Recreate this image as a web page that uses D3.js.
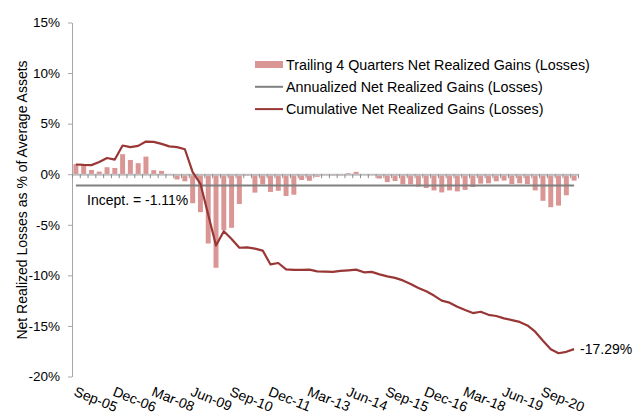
<!DOCTYPE html>
<html>
<head>
<meta charset="utf-8">
<script src="https://cdn.jsdelivr.net/npm/d3@7"></script>
<style>
  body { margin: 0; background: #fff; }
  svg text { font-family: Arial, 'Liberation Sans', sans-serif; fill: #000; }
</style>
</head>
<body>
<div id="chart"></div>
<script>
// quarter-end categories
const quarters = [
  'Sep-05', 'Dec-05',
  'Mar-06', 'Jun-06', 'Sep-06', 'Dec-06',
  'Mar-07', 'Jun-07', 'Sep-07', 'Dec-07',
  'Mar-08', 'Jun-08', 'Sep-08', 'Dec-08',
  'Mar-09', 'Jun-09', 'Sep-09', 'Dec-09',
  'Mar-10', 'Jun-10', 'Sep-10', 'Dec-10',
  'Mar-11', 'Jun-11', 'Sep-11', 'Dec-11',
  'Mar-12', 'Jun-12', 'Sep-12', 'Dec-12',
  'Mar-13', 'Jun-13', 'Sep-13', 'Dec-13',
  'Mar-14', 'Jun-14', 'Sep-14', 'Dec-14',
  'Mar-15', 'Jun-15', 'Sep-15', 'Dec-15',
  'Mar-16', 'Jun-16', 'Sep-16', 'Dec-16',
  'Mar-17', 'Jun-17', 'Sep-17', 'Dec-17',
  'Mar-18', 'Jun-18', 'Sep-18', 'Dec-18',
  'Mar-19', 'Jun-19', 'Sep-19', 'Dec-19',
  'Mar-20', 'Jun-20', 'Sep-20', 'Dec-20',
  'Mar-21', 'Jun-21', 'Sep-21',
];

// labels shown on the category axis
const tickLabels = ['Sep-05', 'Dec-06', 'Mar-08', 'Jun-09', 'Sep-10', 'Dec-11', 'Mar-13',
  'Jun-14', 'Sep-15', 'Dec-16', 'Mar-18', 'Jun-19', 'Sep-20'];

// trailing 4 quarters net realized gains (losses), % of avg assets
const trailing4Q = [
  1.00, 0.85, 0.42, 0.26, 0.69, 0.62, 1.98, 1.41, 1.09, 1.74,
  0.40, 0.33, 0.00, -0.52, -0.70, -2.87, -3.75, -6.85, -9.25, -5.53,
  -5.30, -2.95, -0.15, -1.82, -1.00, -1.75, -1.64, -2.15, -2.03, -0.57,
  -0.65, -0.26, -0.10, -0.15, -0.15, 0.10, 0.23, 0.00, 0.00, -0.43,
  -0.78, -0.68, -1.00, -1.00, -1.23, -1.37, -1.60, -1.80, -1.60, -1.70,
  -1.55, -1.27, -0.93, -0.90, -0.70, -0.63, -0.97, -0.90, -0.97, -1.60,
  -2.63, -3.26, -3.10, -2.08, -0.63,
];

// cumulative net realized gains (losses)
const cumulative = [
  0.96, 0.92, 0.90, 1.20, 1.60, 1.45, 2.84, 2.68, 2.80, 3.23,
  3.20, 3.00, 2.75, 2.68, 2.47, 0.20, -0.95, -4.00, -7.05, -5.63,
  -6.40, -7.27, -7.23, -7.36, -7.55, -8.92, -8.78, -9.40, -9.46, -9.46,
  -9.43, -9.60, -9.63, -9.66, -9.56, -9.50, -9.43, -9.70, -9.66, -9.90,
  -10.10, -10.25, -10.50, -10.85, -11.25, -11.58, -12.00, -12.50, -12.70, -13.10,
  -13.43, -13.73, -13.60, -13.90, -14.02, -14.25, -14.42, -14.60, -14.95, -15.57,
  -16.47, -17.30, -17.70, -17.56, -17.29,
];

// annualized since inception
const annualized = -1.11;

const yTicks = [15, 10, 5, 0, -5, -10, -15, -20];

const seriesNames = [
  'Trailing 4 Quarters Net Realized Gains (Losses)',
  'Annualized Net Realized Gains (Losses)',
  'Cumulative Net Realized Gains (Losses)',
];

const colors = { bar: '#DA9694', annual: '#808080', cumul: '#983735', axis: '#BFBFBF', tick: '#8C8C8C' };

{
  const W = 633;
  const H = 414;
  const plot = { left: 72, right: 578, top: 22.5, bottom: 376.5 };

  const svg = d3.select('#chart').append('svg')
    .attr('width', W)
    .attr('height', H);

  const x = d3.scaleBand()
    .domain(quarters)
    .range([plot.left, plot.right])
    .paddingInner(0.36)
    .paddingOuter(0.18);

  const cx = d => x(d) + x.bandwidth() / 2;

  const y = d3.scaleLinear()
    .domain([-20, 15])
    .range([plot.bottom, plot.top]);

  // y axis
  const yAxis = svg.append('g')
    .attr('transform', `translate(${plot.left},0)`)
    .call(d3.axisLeft(y).tickValues(yTicks).tickSize(4).tickSizeOuter(0).tickPadding(8)
      .tickFormat(d => `${d}%`));
  yAxis.select('.domain').attr('stroke', '#A6A6A6');
  yAxis.selectAll('.tick line').attr('stroke', '#A6A6A6');
  yAxis.selectAll('.tick text')
    .style('font-size', '13.5px')
    .attr('fill', '#000');

  svg.append('text')
    .attr('transform', 'translate(27,200) rotate(-90)')
    .attr('text-anchor', 'middle')
    .style('font-size', '14px')
    .text('Net Realized Losses as % of Average Assets');

  // bars
  svg.append('g')
    .selectAll('rect')
    .data(trailing4Q)
    .join('rect')
    .attr('x', (d, i) => x(quarters[i]))
    .attr('width', x.bandwidth())
    .attr('y', d => y(Math.max(0, d)))
    .attr('height', d => Math.abs(y(d) - y(0)))
    .attr('fill', colors.bar);

  // category axis at zero, ticks between categories
  const xb = d3.scaleLinear().domain([0, quarters.length]).range([plot.left, plot.right]);
  const xAxis = svg.append('g')
    .attr('transform', `translate(0,${y(0)})`)
    .call(d3.axisBottom(xb).tickValues(d3.range(0, quarters.length + 1)).tickSize(4)
      .tickSizeOuter(0).tickFormat(''));
  xAxis.select('.domain').attr('stroke', colors.axis).attr('stroke-width', 2);
  xAxis.selectAll('.tick line').attr('stroke', colors.tick);

  svg.append('g')
    .selectAll('text')
    .data(tickLabels)
    .join('text')
    .attr('transform', d => `translate(${cx(d) + 1},${plot.bottom + 9}) rotate(22)`)
    .attr('dominant-baseline', 'hanging')
    .style('font-size', '14px')
    .text(d => d);

  // annualized line
  svg.append('line')
    .attr('x1', cx(quarters[0]))
    .attr('x2', cx(quarters[quarters.length - 1]))
    .attr('y1', y(annualized))
    .attr('y2', y(annualized))
    .attr('stroke', colors.annual)
    .attr('stroke-width', 2);

  svg.append('text')
    .attr('x', 87)
    .attr('y', y(annualized) + 20)
    .style('font-size', '14px')
    .text(`Incept. = ${annualized.toFixed(2)}%`);

  // cumulative line
  const line = d3.line()
    .x((d, i) => cx(quarters[i]))
    .y(d => y(d));

  svg.append('path')
    .datum(cumulative)
    .attr('d', line)
    .attr('fill', 'none')
    .attr('stroke', colors.cumul)
    .attr('stroke-width', 2.2)
    .attr('stroke-linejoin', 'round');

  const last = cumulative[cumulative.length - 1];
  svg.append('text')
    .attr('x', cx(quarters[quarters.length - 1]) + 6)
    .attr('y', y(last) + 5)
    .style('font-size', '14px')
    .text(`${last.toFixed(2)}%`);

  // legend
  const legend = svg.append('g')
    .selectAll('g')
    .data(seriesNames)
    .join('g')
    .attr('transform', (d, i) => `translate(255,${64.5 + i * 22.3})`);

  legend.filter((d, i) => i === 0).append('rect')
    .attr('x', 0).attr('y', -3.5).attr('width', 28).attr('height', 7)
    .attr('fill', colors.bar);

  legend.filter((d, i) => i > 0).append('line')
    .attr('x1', 0).attr('x2', 28)
    .attr('stroke', (d, i) => (i === 0 ? colors.annual : colors.cumul))
    .attr('stroke-width', 2);

  legend.append('text')
    .attr('x', 31)
    .attr('y', 5)
    .style('font-size', '14.3px')
    .text(d => d);
}
</script>
</body>
</html>
